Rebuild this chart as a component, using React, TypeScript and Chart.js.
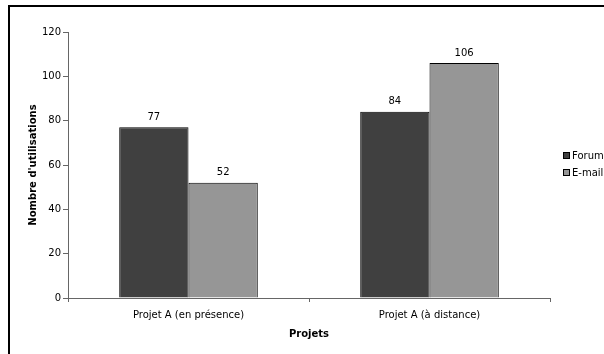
import React, { useEffect, useRef } from "react";
import { Chart, registerables } from "chart.js";

Chart.register(...registerables);

const categories = ["Projet A (en présence)", "Projet A (à distance)"];
const forumValues = [77, 84];
const emailValues = [52, 106];
const seriesNames = ["Forum", "E-mail"];
const seriesColors = ["#404040", "#969696"];
const yTicks = [0, 20, 40, 60, 80, 100, 120];
const yTitle = "Nombre d'utilisations";
const xTitle = "Projets";

const FONT = "'DejaVu Sans', Verdana, sans-serif";

const valueLabels = {
  id: "valueLabels",
  afterDatasetsDraw(chart: any) {
    const ctx = chart.ctx;
    ctx.save();
    ctx.font = `10px ${FONT}`;
    ctx.fillStyle = "#000";
    ctx.textAlign = "center";
    ctx.textBaseline = "middle";
    chart.data.datasets.forEach((ds: any, i: number) => {
      const meta = chart.getDatasetMeta(i);
      meta.data.forEach((bar: any, j: number) => {
        ctx.fillText(String(ds.data[j]), bar.x, bar.y - 10);
      });
    });
    ctx.restore();
  },
};

const customLegend = {
  id: "customLegend",
  afterDraw(chart: any) {
    const ctx = chart.ctx;
    ctx.save();
    ctx.font = `10px ${FONT}`;
    ctx.textAlign = "left";
    ctx.textBaseline = "middle";
    const x = 563;
    const y0 = 156;
    chart.data.datasets.forEach((ds: any, i: number) => {
      const cy = y0 + i * 17;
      ctx.fillStyle = ds.backgroundColor;
      ctx.fillRect(x, cy - 3, 6, 6);
      ctx.strokeStyle = "#000";
      ctx.lineWidth = 1;
      ctx.strokeRect(x + 0.5, cy - 3.5, 6, 6);
      ctx.fillStyle = "#000";
      ctx.fillText(ds.label, x + 9, cy);
    });
    ctx.restore();
  },
};

export default function App() {
  const ref = useRef<HTMLCanvasElement | null>(null);
  useEffect(() => {
    if (!ref.current) return;
    const chart = new Chart(ref.current, {
      type: "bar",
      data: {
        labels: categories,
        datasets: [
          {
            label: seriesNames[0],
            data: forumValues,
            backgroundColor: seriesColors[0],
            borderColor: "#000",
            borderWidth: 1,
            barPercentage: 1,
            categoryPercentage: 0.575,
          },
          {
            label: seriesNames[1],
            data: emailValues,
            backgroundColor: seriesColors[1],
            borderColor: "#000",
            borderWidth: 1,
            barPercentage: 1,
            categoryPercentage: 0.575,
          },
        ],
      },
      options: {
        animation: false,
        responsive: false,
        maintainAspectRatio: false,
        layout: { padding: { left: 0, top: 32, right: 54, bottom: 0 } },
        plugins: {
          legend: { display: false },
          tooltip: { enabled: false },
        },
        scales: {
          x: {
            offset: true,
            grid: {
              offset: true,
              drawOnChartArea: false,
              drawTicks: true,
              tickLength: 4,
              color: "#666",
            },
            border: { display: true, color: "#666", width: 1 },
            ticks: {
              color: "#000",
              font: { family: FONT, size: 10 },
              padding: 7,
              maxRotation: 0,
            },
            title: {
              display: true,
              text: xTitle,
              color: "#000",
              font: { family: FONT, size: 10, weight: "bold" },
              padding: { top: 0, bottom: 14 },
            },
            afterFit(scale: any) {
              scale.height = 56;
            },
          },
          y: {
            min: 0,
            max: 120,
            afterBuildTicks(scale: any) {
              scale.ticks = yTicks.map((v) => ({ value: v }));
            },
            grid: {
              drawOnChartArea: false,
              drawTicks: true,
              tickLength: 5,
              color: "#666",
            },
            border: { display: true, color: "#666", width: 1 },
            ticks: {
              color: "#000",
              font: { family: FONT, size: 10 },
              padding: 2,
            },
            title: {
              display: true,
              text: yTitle,
              color: "#000",
              font: { family: FONT, size: 10, weight: "bold" },
              padding: { top: 27, bottom: 0 },
            },
            afterFit(scale: any) {
              scale.width = 68;
            },
          },
        },
      },
      plugins: [valueLabels, customLegend],
    });
    return () => chart.destroy();
  }, []);

  return (
    <div style={{ position: "absolute", left: 0, top: 0, width: 604, height: 354, overflow: "hidden", background: "#fff" }}>
      <div
        style={{
          position: "absolute",
          left: 8,
          top: 5,
          width: 700,
          height: 500,
          borderLeft: "2px solid #000",
          borderTop: "2px solid #000",
        }}
      />
      <canvas ref={ref} width={604} height={354} style={{ position: "absolute", left: 0, top: 0, width: 604, height: 354 }} />
    </div>
  );
}
